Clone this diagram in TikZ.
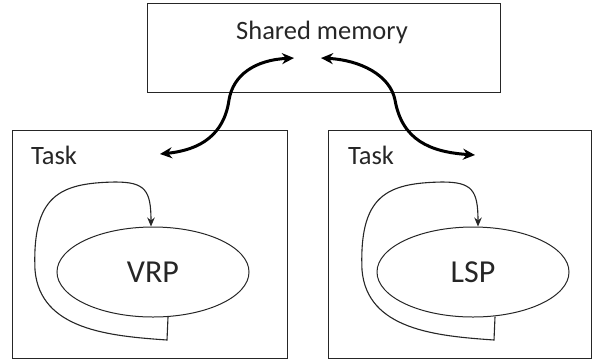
\documentclass[tikz,border=0pt]{standalone}
\usepackage{fontspec}
\setmainfont{Carlito}
\usetikzlibrary{arrows.meta,shapes.geometric}
\definecolor{ink}{HTML}{262626}
\tikzset{
  panel/.style={draw=ink, line width=1.3pt, anchor=north west, inner sep=0pt},
  proc/.style={draw=ink, line width=1pt, ellipse, minimum width=192pt, minimum height=90pt, inner sep=0pt, font=\fontsize{32}{36}\selectfont, text=ink},
  caption/.style={font=\fontsize{26.5}{30}\selectfont, text=ink, inner sep=0pt},
  link/.style={line width=3pt, black, {Stealth[length=12pt,width=11pt]}-{Stealth[length=12pt,width=11pt]}},
  loop/.style={line width=1.1pt, ink, -{Stealth[length=9pt,width=7.5pt]}}
}
\begin{document}
\begin{tikzpicture}[x=1pt,y=-1pt]
\useasboundingbox (0,0) rectangle (593,360);
% shared memory block
\node[panel, minimum width=353pt, minimum height=89pt] (sm) at (147,3) {};
\node[caption] (smtext) at (322,32) {Shared memory};
% the two task blocks
\node[panel, minimum width=275pt, minimum height=228pt] (t1) at (12,130) {};
\node[panel, minimum width=263pt, minimum height=228pt] (t2) at (328,130) {};
\node[caption] (t1text) at (54,155) {Task};
\node[caption] (t2text) at (371,155) {Task};
% processes
\node[proc] (vrp) at (153,272) {VRP};
\node[proc] (lsp) at (473,272) {LSP};
% exchange endpoints
\coordinate (sml) at (294,58);
\coordinate (smr) at (321,58);
\coordinate (t1in) at (160,154);
\coordinate (t2in) at (475,155);
\draw[link] (sml) .. controls (255,60) and (233,75) .. (229,100)
  .. controls (224,135) and (200,150) .. (t1in);
\draw[link] (smr) .. controls (360,60) and (390,75) .. (395,100)
  .. controls (402,140) and (430,152) .. (t2in);
% feedback loops
\coordinate (l1a) at (167,340);
\coordinate (l2a) at (494,340);
\draw[loop] (vrp.south) ++(15,-0.5) -- (l1a)
  .. controls (110,336) and (40,330) .. (35,270)
  .. controls (32,195) and (60,183) .. (115,182)
  .. controls (145,182) and (151,190) .. (vrp.north -| 151,0);
\draw[loop] (lsp.south) ++(22,-0.8) -- (l2a)
  .. controls (437,336) and (367,330) .. (362,270)
  .. controls (359,195) and (387,183) .. (442,182)
  .. controls (472,182) and (478,190) .. (lsp.north -| 478,0);
\end{tikzpicture}
\end{document}
